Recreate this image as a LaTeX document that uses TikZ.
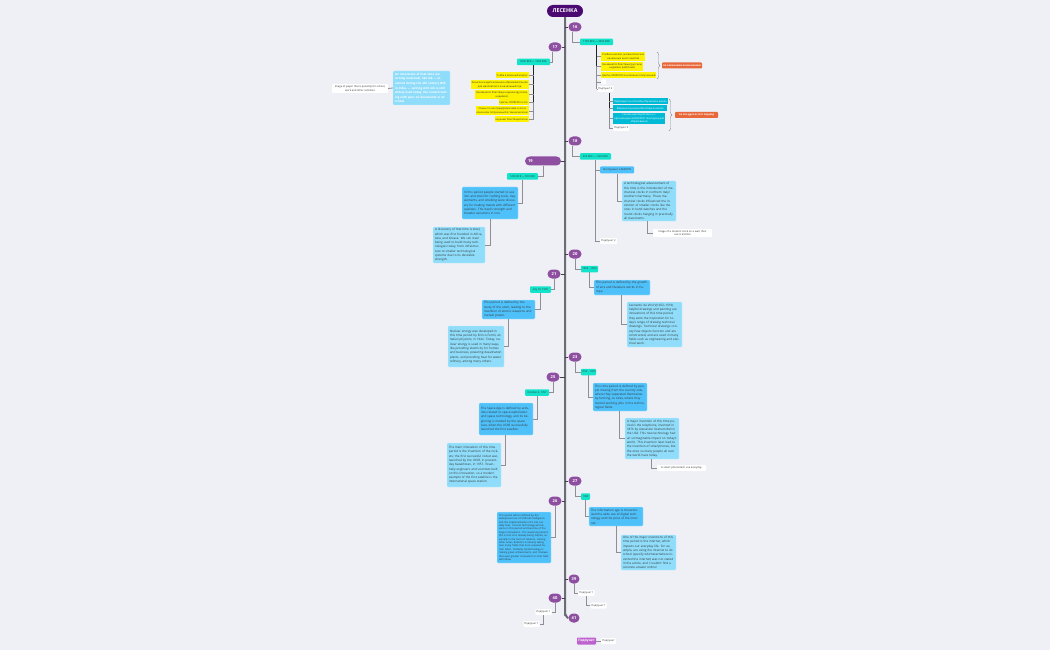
\documentclass[tikz,border=0pt]{standalone}
\usepackage{fontspec}
\setmainfont{Open Sans}
\usetikzlibrary{decorations.pathreplacing}
\definecolor{bgc}{HTML}{EEF0F6}
\definecolor{titlec}{HTML}{4B0A72}
\definecolor{yearc}{HTML}{8E4FA0}
\definecolor{tealc}{HTML}{14E3CB}
\definecolor{skyc}{HTML}{4FC1FA}
\definecolor{lightc}{HTML}{8FDDFA}
\definecolor{cyanc}{HTML}{00BAD6}
\definecolor{orangec}{HTML}{E8683A}
\definecolor{pinkc}{HTML}{BE62D0}
\definecolor{linec}{HTML}{8E8E94}
\definecolor{trunkc}{HTML}{6C6C74}
\tikzset{
    base/.style={inner sep=0pt, align=left, font=\fontsize{3}{4.3}\selectfont, text=black!80},
    small/.style={font=\fontsize{2.6}{3.5}\selectfont},
    yearnode/.style={base, fill=yearc, text=white, rounded corners=4.5pt, minimum width=13, minimum height=9, align=center, font=\fontsize{4}{5}\selectfont\bfseries},
    dateb/.style={base, small, fill=tealc, rounded corners=0.8pt, minimum height=6.5, align=center},
    yellowb/.style={base, small, fill=yellow, inner xsep=1pt, minimum height=6, align=center},
    skyb/.style={base, fill=skyc, draw=skyc!40!white, line width=0.3, inner xsep=2pt, rounded corners=1pt, text width={#1-4}},
    lightb/.style={base, fill=lightc, draw=lightc!50!white, line width=0.3, inner xsep=2pt, rounded corners=1pt, text width={#1-4}},
    cyanb/.style={base, small, fill=cyanc, text=white, inner xsep=1pt, minimum height=6, align=center},
    noteb/.style={base, small, fill=white, inner xsep=1pt, rounded corners=0.8pt, minimum height=6, align=center},
    sumb/.style={base, small, fill=orangec, text=white, rounded corners=0.8pt, minimum height=6, align=center, font=\fontsize{2.6}{3.5}\selectfont\bfseries},
    conn/.style={linec, line width=0.8},
    ticks/.style={black!75, line width=0.7},
    bracel/.style={linec, line width=0.4, decorate, decoration={brace, amplitude=3pt}},
}
\begin{document}
\begin{tikzpicture}[x=1pt,y=-1pt]
    \useasboundingbox[fill=bgc] (0,0) rectangle (1050,650);

    % trunk and years
    \node[base, fill=titlec, text=white, rounded corners=6pt, minimum width=36, minimum height=12, align=center, font=\fontsize{5.4}{6}\selectfont\bfseries] (title) at (565,11) {ЛЕСЕНКА};
    \node[yearnode] (y16) at (575,27) {16};
    \node[yearnode] (y17) at (555,47) {17};
    \node[yearnode] (y18) at (575,141) {18};
    \node[yearnode, minimum width=36, text width=30, align=left] (y19) at (543,161) {19};
    \node[yearnode] (y20) at (575,254) {20};
    \node[yearnode] (y21) at (554,274) {21};
    \node[yearnode] (y23) at (575,357) {23};
    \node[yearnode] (y25) at (553,377) {25};
    \node[yearnode] (y27) at (575,481) {27};
    \node[yearnode] (y26) at (555,501) {26};
    \node[yearnode, minimum width=11] (y39) at (574,579) {39};
    \node[yearnode] (y40) at (555,598) {40};
    \node[yearnode, minimum width=11] (y41) at (574,618) {41};

    \draw[trunkc, line width=2] (title.south) -- (565,614) to[out=90,in=180] (y41.west);
    \foreach \yr in {16,18,20,23,27,39}
        \draw[ticks] (565,0 |- y\yr.west) -- (y\yr.west);
    \foreach \yr in {17,19,21,25,26,40}
        \draw[ticks] (565,0 |- y\yr.east) -- (y\yr.east);

    % 17
    \node[dateb, minimum width=33] (d17) at (533.5,62) {3000 BCE — 1200 BCE};
    \node[yellowb, anchor=east] (m1) at (529,75.5) {Учеба в военный корпус};
    \node[yellowb, anchor=east, minimum height=9] (m2) at (529,84.5) {Зачислен кадетом военно-образовательное\\для малолетнего в начальный год};
    \node[yellowb, anchor=east, minimum height=9] (m3) at (529,94.5) {Занимается блестяще науками (русским,\\недалеко)};
    \node[yellowb, anchor=east] (m4) at (529,102.5) {Цветы: ЮНЕСКО и его};
    \node[yellowb, anchor=east, minimum height=9] (m5) at (529,111) {Очень точно предприимчиво и его в\\конечном полученный в гимназии всем};
    \node[yellowb, anchor=east] (m6) at (529,119.5) {науками блестящий всем};
    \draw[black!85, line width=0.8] (d17.south) -- (m4.east -| d17.south);
    \foreach \m in {1,...,6}
        \draw[conn] (d17.south |- m\m.east) -- (m\m.east);
    \draw[conn] (m4.east -| d17.south) -- (m6.east -| d17.south);
    \draw[conn] ([xshift=-3pt]y17.south) |- (d17.east);
    \node[lightb=57, text=white, minimum height=34, font=\fontsize{2.9}{4.6}\selectfont\bfseries] (ink) at (421.5,88) {An innovation of that time are writing materials, like ink — invented during the 4th century BCE in India, — writing with ink is still widely used today, the scratch writing with pens on documents or at school};
    \node[noteb, minimum height=9, minimum width=56] (inknote) at (360,88.5) {Image of paper that is possibly for school,\\work and other activities};
    \draw[conn] (inknote.east) -- (ink.west);

    % 16
    \node[dateb, minimum width=33] (d16) at (596.5,42) {1760 BCE — 3000 BCE};
    \draw[conn] ([xshift=-3pt]y16.south) |- (d16.west);
    \node[yellowb, anchor=west, minimum height=9] (t1) at (601,56.5) {Учеба в школах, математических\\начальных школ занятия};
    \node[yellowb, anchor=west, minimum height=9] (t2) at (601,66.5) {Занимается блестяще (русским,\\недалеко работами)};
    \node[yellowb, anchor=west] (t3) at (601,75.5) {Цветы, ЮНЕСКО в несколько полученный};
    \node[noteb, anchor=west, minimum width=5, minimum height=5] (t4) at (601,82) {};
    \node[noteb, anchor=west] (t5) at (597,89) {Подпункт 3};
    \draw[black!85, line width=0.8] (d16.south) -- (t2.west -| d16.south);
    \draw[conn] (t2.west -| d16.south) -- (t5.west -| d16.south);
    \foreach \m in {1,...,5}
        \draw[conn] (d16.south |- t\m.west) -- (t\m.west);
    \coordinate (topa) at (657,52);
    \coordinate (topb) at (657,79);
    \draw[bracel] (topa) -- (topb);
    \node[sumb, minimum width=40] (sum1) at (682,65.5) {по окончании в начальном};

    \coordinate (lowbar) at (609,93);
    \node[cyanb, anchor=west, minimum width=54] (c1) at (613,101.5) {Переходит на способы обучения в школе};
    \node[cyanb, anchor=west, minimum width=54] (c2) at (613,108.5) {Важные изучения блестяще в школе};
    \node[cyanb, anchor=west, minimum width=51, minimum height=11] (c3) at (613,118.5) {Начальная подготовка и с\\организации в ЮНЕСКО техникуме для\\образования};
    \node[noteb, anchor=west, minimum width=16] (c4) at (613,128) {Подпункт 4};
    \draw[black!85, line width=0.8] (lowbar) -- (c2.west -| lowbar);
    \draw[conn] (c2.west -| lowbar) -- (c4.west -| lowbar);
    \foreach \m in {1,...,4}
        \draw[conn] (lowbar |- c\m.west) -- (c\m.west);
    \coordinate (lowa) at (669,99);
    \coordinate (lowb) at (669,131);
    \draw[bracel] (lowa) -- (lowb);
    \node[sumb, minimum width=43] (sum2) at (696.5,115) {по эти дуги в этот период};

    % 18
    \node[dateb, minimum width=31] (d18) at (595.5,156.5) {450 BCE — 1400 BCE};
    \draw[conn] ([xshift=-3pt]y18.south) |- (d18.west);
    \node[base, small, fill=skyc, rounded corners=1pt, minimum width=34, minimum height=7, align=center] (clock) at (617,170) {Инструмент и MARTIN};
    \node[noteb, minimum width=17] (p18) at (608.5,241) {Подпункт 2};
    \draw[conn] (d18.south) |- (p18.west);
    \draw[conn] (d18.south |- clock.west) -- (clock.west);
    \node[lightb=54, minimum height=40] (mech) at (649,201) {A technological advancement of this time is the introduction of mechanical clocks in northern Italy/ southern Germany. These mechanical clocks influenced the invention of smaller clocks like the ones in hand watches and the round clocks hanging in practically all classrooms.};
    \draw[conn] (clock.south) |- (mech.west);
    \node[noteb, minimum width=59, minimum height=8] (mechnote) at (682.5,233) {Image of a modern clock on a wall, their\\use is all-time};
    \draw[conn] ([xshift=26pt]mech.south west) |- (mechnote.west);

    % 19
    \node[dateb, minimum width=31] (d19) at (522.5,176.5) {1200 BCE — 500 BCE};
    \draw[conn] (y19.south) |- (d19.east);
    \node[skyb=56, minimum height=32] (iron) at (490,203) {In this period people started to use iron and steel for crafting tools, clay, elements, and smelting were discovery for making metals with different qualities. The steel's strength and broader variations in iron.};
    \draw[conn] (d19.south) |- (iron.east);
    \node[lightb=52, minimum height=36] (steel) at (459,245) {A discovery of that time is steel, which was first founded in Africa, Asia, and Greece. We can steel being used to build many technologies today, from infrastructure to smaller technological systems due to its desirable strength.};
    \draw[conn] ([xshift=-28pt]iron.south east) |- (steel.east);

    % 20
    \node[dateb, minimum width=17] (d20) at (589.5,269) {1300 - 1600};
    \draw[conn] (y20.south) |- (d20.west);
    \node[skyb=56, minimum height=15] (arts) at (622,287.5) {This period is defined by the growth of arts and literature works in Europe.};
    \draw[conn] (d20.south) |- (arts.west);
    \node[lightb=55, minimum height=45] (vinci) at (654.5,324.5) {Leonardo da Vinci's(1452–1519) helpful drawings and painting are innovations of this time period; they were the inspiration for today's range of drawing technical drawings. Technical drawings convey how objects function and are constructed, and are used in many fields such as engineering and electrical work.};
    \draw[conn] ([xshift=28pt]arts.south west) |- (vinci.west);

    % 21
    \node[dateb, minimum width=21] (d21) at (540.5,289.5) {July 16, 1945};
    \draw[conn] (y21.south) |- (d21.east);
    \node[skyb=53, minimum height=19] (atom) at (508.5,309.5) {This period is defined by the study of the atom, leading to the invention of atomic weapons and nuclear power.};
    \draw[conn] (d21.south) |- (atom.east);
    \node[lightb=56, minimum height=41] (nuclear) at (476,346.5) {Nuclear energy was developed in this time period by Enrico Fermi, an Italian physicist, in 1942. Today, nuclear energy is used in many ways, like providing electricity for homes and business, powering desalination plants, and providing heat for water refinery, among many others.};
    \draw[conn] (atom.south) |- (nuclear.east);

    % 23
    \node[dateb, minimum width=15] (d23) at (588.5,372) {1750 - 1900};
    \draw[conn] (y23.south) |- (d23.west);
    \node[skyb=54, minimum height=28] (city) at (620,397) {This time period is defined by people moving from the country side, where they separated themselves by farming, to cities, where they started working jobs in the technological fields.};
    \draw[conn] (d23.south) |- (city.west);
    \node[lightb=54, minimum height=41] (phone) at (652,438.5) {A major invention of this time period is the telephone, invented in 1876 by Alexander Graham Bell in the USA. This new technology had an unimaginable impact on today's world. This invention later lead to the invention of smartphones, like the ones so many people all over the world have today.};
    \draw[conn] ([xshift=27pt]city.south west) |- (phone.west);
    \node[noteb, minimum width=49] (phonenote) at (681.5,468) {A smart phone/tech use everyday};
    \draw[conn] ([xshift=27pt]phone.south west) |- (phonenote.west);

    % 25
    \node[dateb, minimum width=24] (d25) at (537,392.5) {October 4, 1957};
    \draw[conn] (y25.south) |- (d25.east);
    \node[skyb=54, minimum height=32] (space) at (506,419) {The Space Age is defined by activities related to space exploration and space technology, and its beginning is marked by the space race, when the USSR successfully launched the first satellite.};
    \draw[conn] (d25.south) |- (space.east);
    \node[lightb=54, minimum height=44] (rocket) at (474,465) {The main innovation of this time period is the invention of the rockets; the first successful rocket was launched by the USSR, in present-day Kazakhstan, in 1957. Essentially engineers and scientists built on this innovation, so a modern example of the first satellite is the international space station.};
    \draw[conn] ([xshift=-1pt]space.south) |- (rocket.east);

    % 26
    \node[skyb=54, minimum height=51, font=\fontsize{2.5}{3.4}\selectfont] (robots) at (524,537.5) {This period will be defined by the widespread use of artificial intelligence and the implementation of it into our daily lives. Current technology will advance in this period and become of the larger innovations. The reasoning behind this is that AI is already being helpful, especially in the form of robotics. Among other areas, Robotics is already taking over many fields that once required human labor. Similarly, biotechnology is making great achievements, and I believe that even greater innovations in that field will follow.};
    \draw[conn] (y26.south) |- (robots.east);

    % 27
    \node[dateb, minimum width=9] (d27) at (585.5,496.5) {1990};
    \draw[conn] (y27.south) |- (d27.west);
    \node[skyb=54, minimum height=19] (info) at (616,516.5) {The information age is characterized the wide use of digital technology and the price of the internet.};
    \draw[conn] (d27.south) |- (info.west);
    \node[lightb=55, minimum height=35] (web) at (648.5,552.5) {One of the major inventions of this time period is the internet, which impacts our everyday life. For example, are using the internet to do school (specify whichever/where invented the internet) was not stated in the article, and I couldn't find a concrete answer online!};
    \draw[conn] (info.south) |- (web.west);

    % 39 and 40
    \node[noteb, minimum width=15] (p39a) at (586.5,593) {Подпункт 1};
    \node[noteb, minimum width=15] (p39b) at (598.5,605.5) {Подпункт 1};
    \draw[conn] (y39.south) |- (p39a.west);
    \draw[conn] (p39a.south) |- (p39b.west);
    \node[noteb, minimum width=15] (p40a) at (543.5,612) {Подпункт 1};
    \node[noteb, minimum width=15] (p40b) at (531.5,624) {Подпункт 1};
    \draw[conn] (y40.south) |- (p40a.east);
    \draw[conn] (p40a.south) |- (p40b.east);

    % legend
    \node[base, fill=pinkc, text=white, rounded corners=0.8pt, minimum width=19, minimum height=7, align=center, font=\fontsize{3.2}{4}\selectfont\bfseries] (legend) at (586.5,641) {Подпункт};
    \node[noteb, minimum width=15] (legendnote) at (608.5,641) {Подпункт};
    \draw[conn] (legend.east) -- (legendnote.west);
\end{tikzpicture}
\end{document}
